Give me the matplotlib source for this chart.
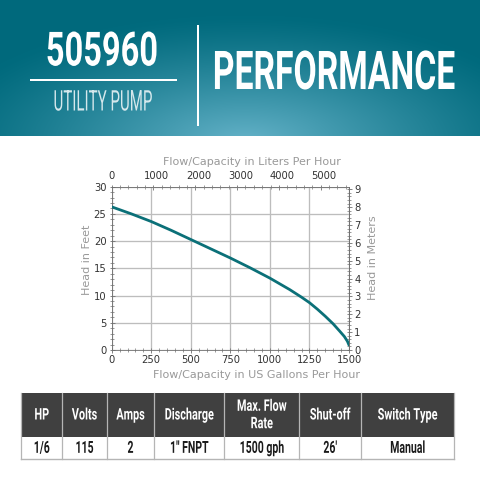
import numpy as np
import matplotlib
matplotlib.use("Agg")
import matplotlib.pyplot as plt
import matplotlib.patheffects as pe
from matplotlib.patches import Rectangle
from matplotlib.text import Text
from matplotlib.transforms import Affine2D, Bbox, ScaledTranslation
from matplotlib.ticker import MultipleLocator

flow_gph = [0, 125, 250, 375, 500, 625, 750, 875, 1000, 1125, 1200, 1250, 1300, 1350, 1400, 1440, 1470, 1490, 1500]
head_ft = [26.3, 25.0, 23.6, 22.0, 20.3, 18.6, 16.9, 15.1, 13.2, 11.1, 9.7, 8.7, 7.5, 6.2, 4.8, 3.5, 2.5, 1.6, 0.9]

model = "505960"
subtitle = "UTILITY PUMP"
heading = "PERFORMANCE"
col_headers = ["HP", "Volts", "Amps", "Discharge", "Max. Flow\nRate", "Shut-off", "Switch Type"]
col_values = ["1/6", "115", "2", "1'' FNPT", "1500 gph", "26'", "Manual"]
col_edges = [21.3, 62.3, 106.7, 154.3, 224.3, 299.3, 361.3, 454]

W = 480
fig = plt.figure(figsize=(4.8, 4.8), dpi=100, facecolor="white")
bg = fig.add_axes([0, 0, 1, 1])
bg.axis("off")

# banner gradient
yy, xx = np.mgrid[0:137, 0:480]
d = np.sqrt(((xx - 245) / 310.0) ** 2 + ((yy - 142) / 125.0) ** 2)
t = np.clip(1 - d, 0, 1) ** 1.2
c0 = np.array([0, 106, 125]) / 255
c1 = np.array([100, 178, 200]) / 255
img = c0[None, None, :] * (1 - t[..., None]) + c1[None, None, :] * t[..., None]
bg.imshow(img, extent=(0, 480, 136.5, 0), aspect="auto", zorder=0)
bg.set_xlim(0, W); bg.set_ylim(W, 0)


class Squeeze(pe.AbstractPathEffect):
    """Narrows drawn glyphs horizontally about a fixed display x."""
    def __init__(self, sx, cx):
        super().__init__()
        self.sx, self.cx = sx, cx

    def draw_path(self, renderer, gc, tpath, affine, rgbFace=None):
        t = affine + Affine2D().translate(-self.cx, 0).scale(self.sx, 1).translate(self.cx, 0)
        renderer.draw_path(gc, tpath, t, rgbFace)


class NarrowText(Text):
    """Real text drawn in a condensed width; its reported extent is condensed too."""
    def __init__(self, x, y, s, sx, **kw):
        super().__init__(x, y, s, ha="center", va="center", family=["Roboto", "DejaVu Sans"], **kw)
        self.sx = sx
        self.set_path_effects([Squeeze(sx, x)])

    def get_window_extent(self, renderer=None, dpi=None):
        b = super().get_window_extent(renderer, dpi)
        c = (b.x0 + b.x1) / 2
        h = b.width / 2 * self.sx
        return Bbox([[c - h, b.y0], [c + h, b.y1]])


def ntext(x, y, s, sx, **kw):
    # x is given in figure pixels (the background axes map 1:1 to pixels)
    t = NarrowText(x, W - y, s, sx, **kw)
    fig.add_artist(t)
    t.set_transform(Affine2D())
    return t


ntext(102, 52.5, model, 0.69, color="white", fontsize=34, fontweight="bold")
bg.add_patch(Rectangle((30, 78.7), 146.5, 2.2, color="white", lw=0))
ntext(103, 103, subtitle, 0.53, color="#d5e8ec", fontsize=20.5)
bg.add_patch(Rectangle((197, 25), 2.2, 101, color="white", lw=0))
ntext(334, 74.5, heading, 0.63, color="white", fontsize=38.5, fontweight="bold")

# table
top, mid, bot = 392.7, 436.7, 459
bg.add_patch(Rectangle((col_edges[0], top), col_edges[-1] - col_edges[0], mid - top, color="#404040", lw=0))
for i, (h, v) in enumerate(zip(col_headers, col_values)):
    cx = (col_edges[i] + col_edges[i + 1]) / 2
    ntext(cx, (top + mid) / 2 + 0.3, h, 0.68, color="white", fontsize=11.5, fontweight="bold", linespacing=1.2)
    ntext(cx, (mid + bot) / 2 + 0.5, v, 0.63, color="#1a1a1a", fontsize=12, fontweight="bold")
for x in col_edges:
    bg.plot([x, x], [top, bot], color="#b5b5b5", lw=0.9, zorder=3)
bg.plot([col_edges[0], col_edges[-1]], [bot, bot], color="#b5b5b5", lw=1.0)

# chart
L, R, T, B = 111.7, 349.0, 186.7, 350.0
ax = fig.add_axes([L / W, 1 - B / W, (R - L) / W, (B - T) / W])
ax.patch.set_alpha(0)
ax.set_xlim(0, 1500); ax.set_ylim(0, 30)
ax.plot(flow_gph, head_ft, color="#0b7078", lw=2.0, solid_capstyle="round", zorder=3)
ax.xaxis.set_major_locator(MultipleLocator(250))
ax.yaxis.set_major_locator(MultipleLocator(5))
ax.xaxis.set_minor_locator(MultipleLocator(50))
ax.yaxis.set_minor_locator(MultipleLocator(1))
ax.grid(True, which="major", color="#bdbdbd", lw=0.95)
ink = "#333333"; grey = "#999999"; tickc = "#6e6e6e"
tick_major = dict(which="major", direction="inout", length=3.6, width=0.6, labelsize=7.2, color=tickc, labelcolor=ink, pad=2)
tick_minor = dict(which="minor", direction="inout", length=2.2, width=0.5, color=tickc)
ax.tick_params(**tick_major)
ax.tick_params(**tick_minor)
for s in ax.spines.values():
    s.set_linewidth(0.6); s.set_color(tickc)
ax.set_xlabel("Flow/Capacity in US Gallons Per Hour", color=grey, fontsize=8, labelpad=3.5, x=0.612)
ax.set_ylabel("Head in Feet", color=grey, fontsize=8, labelpad=1.5, y=0.55)

top_ax = ax.secondary_xaxis("top", functions=(lambda g: g * 3.785, lambda l: l / 3.785))
top_ax.xaxis.set_major_locator(MultipleLocator(1000))
top_ax.xaxis.set_minor_locator(MultipleLocator(200))
top_ax.tick_params(**tick_major)
top_ax.tick_params(**tick_minor)
top_ax.set_xlabel("Flow/Capacity in Liters Per Hour", color=grey, fontsize=8, labelpad=4.5, x=0.593)

right_ax = ax.secondary_yaxis("right", functions=(lambda f: f * 0.3048, lambda m: m / 0.3048))
right_ax.yaxis.set_major_locator(MultipleLocator(1))
right_ax.yaxis.set_minor_locator(MultipleLocator(0.2))
right_ax.tick_params(**tick_major)
right_ax.tick_params(**tick_minor)
right_ax.set_ylabel("Head in Meters", color=grey, fontsize=8, labelpad=5.5, y=0.566)
for a in (top_ax, right_ax):
    for s in a.spines.values():
        s.set_linewidth(0.6); s.set_color(tickc)

# the top axis labels sit a little right of their ticks, except the first
fig.canvas.draw()
shift = ScaledTranslation(3.2 / 100, 0, fig.dpi_scale_trans)
for tick in top_ax.xaxis.get_major_ticks():
    if abs(tick.get_loc()) > 1:
        tick.label2.set_transform(tick.label2.get_transform() + shift)

fig.savefig("out.png", dpi=100)
